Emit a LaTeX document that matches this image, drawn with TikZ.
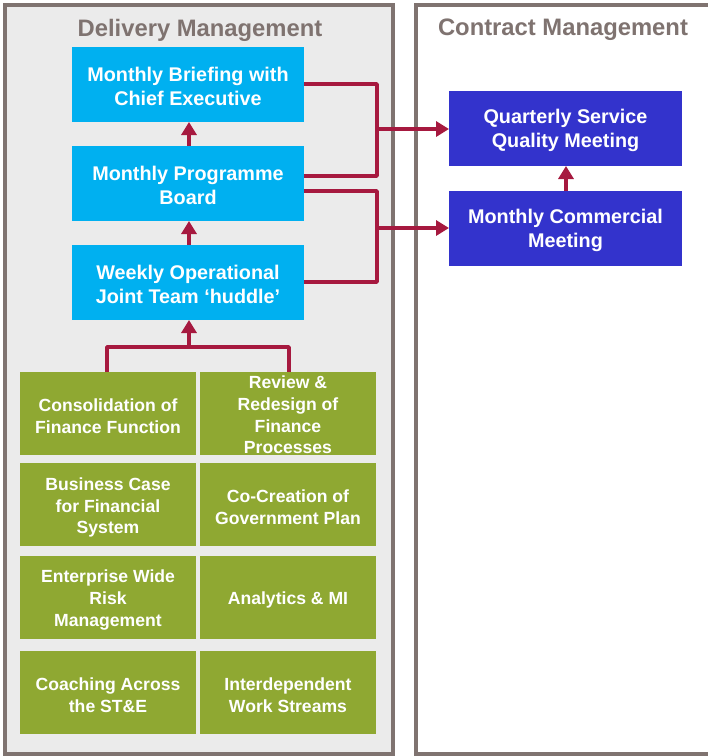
\documentclass[tikz,border=0pt]{standalone}
\usepackage{fontspec}
\setmainfont{Liberation Sans}
\usetikzlibrary{arrows.meta}
\definecolor{panelborder}{HTML}{7F7370}
\definecolor{panelfill}{HTML}{EBEBEB}
\definecolor{bluebox}{HTML}{00B0F0}
\definecolor{purplebox}{HTML}{3333CC}
\definecolor{greenbox}{HTML}{8FA832}
\definecolor{linkred}{HTML}{A6193F}
\begin{document}
\begin{tikzpicture}[x=1pt,y=-1pt,
  panel/.style={draw=panelborder,line width=3.5pt},
  titletext/.style={text=panelborder,font=\bfseries\fontsize{23.8}{26}\selectfont},
  bluenode/.style={fill=bluebox,text=white,align=center,font=\bfseries\fontsize{19.8}{24}\selectfont,inner sep=0pt},
  purplenode/.style={fill=purplebox,text=white,align=center,font=\bfseries\fontsize{19.8}{24}\selectfont,inner sep=0pt},
  greennode/.style={fill=greenbox,text=white,align=center,font=\bfseries\fontsize{17.6}{21.7}\selectfont,inner sep=0pt},
  link/.style={draw=linkred,line width=3.5pt,line join=round},
  arrowlink/.style={link,-{Triangle[length=13pt,width=15pt]}}]
\useasboundingbox (0,0) rectangle (708,756);
% panels
\draw[panel,fill=panelfill] (5,5) rectangle (393,754);
\draw[panel,fill=white] (416,5) rectangle (712,754);
\node[titletext] (tdel) at (200,30) {Delivery Management};
\node[titletext] (tcon) at (563,30) {Contract Management};
% blue boxes
\path[bluenode] (72,47) rectangle (304,122) node[midway,yshift=-2pt] (b1) {Monthly Briefing with\\Chief Executive};
\path[bluenode] (72,146) rectangle (304,221) node[midway,yshift=-2pt] (b2) {Monthly Programme\\Board};
\path[bluenode] (72,245) rectangle (304,320) node[midway,yshift=-2pt] (b3) {Weekly Operational\\Joint Team ‘huddle’};
\coordinate (b1s) at (189,122); \coordinate (b2n) at (189,146);
\coordinate (b2s) at (189,221); \coordinate (b3n) at (189,245);
\coordinate (b3s) at (189,320);
% purple boxes
\path[purplenode] (449,91) rectangle (682,166) node[midway,yshift=-2pt] (q) {Quarterly Service\\Quality Meeting};
\path[purplenode] (449,191) rectangle (682,266) node[midway,yshift=-2pt] (m) {Monthly Commercial\\Meeting};
\coordinate (qs) at (566,166); \coordinate (mn) at (566,191);
\coordinate (qw) at (449,129); \coordinate (mw) at (449,228);
% green boxes
\path[greennode] (20,372) rectangle (196,455) node[midway,yshift=-2.5pt] (g1) {Consolidation of\\Finance Function};
\path[greennode] (200,372) rectangle (376,455) node[midway,yshift=-1.5pt] (g2) {Review \&\\Redesign of\\Finance\\Processes};
\path[greennode] (20,463) rectangle (196,546) node[midway,yshift=-3pt] (g3) {Business Case\\for Financial\\System};
\path[greennode] (200,463) rectangle (376,546) node[midway,yshift=-2.5pt] (g4) {Co-Creation of\\Government Plan};
\path[greennode] (20,556) rectangle (196,639) node[midway,yshift=-2.5pt] (g5) {Enterprise Wide\\Risk\\Management};
\path[greennode] (200,556) rectangle (376,639) node[midway,yshift=-2.5pt] (g6) {Analytics \& MI};
\path[greennode] (20,651) rectangle (196,734) node[midway,yshift=-2.5pt] (g7) {Coaching Across\\the ST\&E};
\path[greennode] (200,651) rectangle (376,734) node[midway,yshift=-2.5pt] (g8) {Interdependent\\Work Streams};
\coordinate (g1n) at (107,372); \coordinate (g2n) at (289,372);
% vertical arrows
\draw[arrowlink] (b2n) -- (b1s);
\draw[arrowlink] (b3n) -- (b2s);
\draw[arrowlink] (mn) -- (qs);
% tree from green boxes
\coordinate (tj) at (189,347);
\draw[link] (g1n) |- (tj) -| (g2n);
\draw[arrowlink] (tj) -- (b3s);
% connectors to contract management
\coordinate (b1e) at (304,84); \coordinate (b2e) at (304,176);
\coordinate (b2e2) at (304,191); \coordinate (b3e) at (304,282);
\coordinate (j1) at (377,129); \coordinate (j2) at (377,228);
\draw[link] (b1e) -| (j1) |- (b2e);
\draw[arrowlink] (j1) -- (qw);
\draw[link] (b2e2) -| (j2) |- (b3e);
\draw[arrowlink] (j2) -- (mw);
\end{tikzpicture}
\end{document}
